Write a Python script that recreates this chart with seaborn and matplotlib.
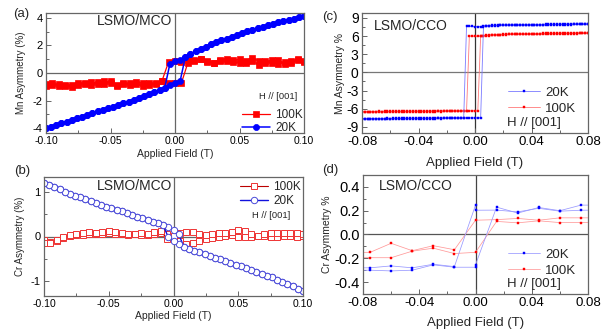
import numpy as np
import pandas as pd
import matplotlib
matplotlib.use("Agg")
import matplotlib.pyplot as plt
from matplotlib.lines import Line2D
from matplotlib.ticker import MultipleLocator, FixedLocator
import seaborn as sns

sns.set_style("white")
plt.rcParams["font.family"] = ["Liberation Sans", "DejaVu Sans"]

# ---------------- Panel (a): Mn asymmetry, LSMO/MCO ----------------
a_x20 = np.round(np.arange(-0.100, 0.1001, 0.004), 3)
# 20K lower branch, x = -0.100 ... 0.004
a20_lower = [-4.02, -3.90, -3.78, -3.66, -3.53, -3.41, -3.28, -3.16, -3.04, -2.91,
             -2.79, -2.67, -2.55, -2.43, -2.31, -2.19, -2.07, -1.95, -1.82, -1.68,
             -1.53, -1.40, -1.26, -1.10, -0.85, -0.70, -0.57]
# 20K upper branch, x = -0.004 ... 0.100
a20_upper = [0.65, 0.86, 0.97, 1.15, 1.40, 1.58, 1.75, 1.92, 2.07, 2.22,
             2.36, 2.50, 2.64, 2.77, 2.90, 3.02, 3.14, 3.25, 3.36, 3.47,
             3.58, 3.68, 3.77, 3.86, 3.95, 4.03, 4.12]
a_x100 = np.round(np.arange(-0.100, 0.1001, 0.005), 3)
a100_asc = [-0.80, -0.75, -0.92, -0.95, -0.85, -0.70, -0.78, -0.62, -0.80, -0.55,
            -0.72, -0.85, -0.80, -0.75, -0.68, -0.72, -0.85, -0.75, -0.60, -0.70,
            -0.75, -0.72,
            0.75, 0.95, 1.05, 0.80, 0.70, 0.90, 0.85, 0.95, 1.00, 0.75,
            0.85, 0.60, 0.90, 0.70, 0.95, 0.65, 0.75, 0.95, 0.80]
a100_desc = [-0.95, -0.88, -0.78, -0.90, -0.98, -0.85, -0.75, -0.90, -0.68, -0.82,
             -0.60, -0.95, -0.70, -0.88, -0.80, -0.92, -0.70, -0.82, -0.55,
             0.80, 0.85, 0.82, 0.95, 0.90, 1.00, 0.85, 0.75, 0.95, 1.05,
             0.80, 0.70, 0.90, 1.10, 0.85, 0.75, 0.95, 0.65, 0.80, 0.90,
             1.00, 0.85]

# ---------------- Panel (b): Cr asymmetry, LSMO/MCO ----------------
b_x20 = a_x20
b20_upper = [1.22, 1.17, 1.12, 1.07, 1.02, 0.97, 0.93, 0.89, 0.84, 0.80,
             0.76, 0.72, 0.68, 0.64, 0.60, 0.57, 0.53, 0.49, 0.45, 0.41,
             0.38, 0.34, 0.30, 0.26, 0.22, 0.14, 0.05]
b20_lower = [-0.02, -0.10, -0.17, -0.23, -0.28, -0.32, -0.36, -0.40, -0.44, -0.48,
             -0.52, -0.56, -0.60, -0.64, -0.68, -0.72, -0.76, -0.80, -0.84, -0.89,
             -0.93, -0.98, -1.03, -1.08, -1.13, -1.18, -1.23]
b_x100 = a_x100
b100_asc = [-0.08, -0.12, -0.10, -0.04, 0.02, 0.03, 0.04, 0.05, 0.05, 0.06,
            0.08, 0.06, 0.05, 0.04, 0.05, 0.04, 0.03, 0.06, 0.08, 0.05,
            0.00, -0.10, -0.16, -0.14, -0.10, -0.06, -0.03, 0.00, 0.02, 0.03,
            0.00, -0.02, 0.00, 0.02, 0.01, -0.01, 0.00, 0.02, 0.01, 0.00, 0.01]
b100_desc = [-0.15, -0.14, -0.08, -0.02, 0.03, 0.06, 0.08, 0.10, 0.09, 0.10,
             0.12, 0.10, 0.08, 0.06, 0.05, 0.07, 0.06, 0.11, 0.13, -0.05,
             0.02, 0.08, 0.11, 0.10, 0.06, 0.03, 0.05, 0.08, 0.07, 0.10,
             0.14, 0.12, 0.06, 0.02, 0.05, 0.07, 0.08, 0.08, 0.07, 0.08, 0.06]

# ---------------- Panel (c): Mn asymmetry, LSMO/CCO ----------------
c_x = np.round(np.arange(-0.080, 0.0801, 0.002), 3)
c20_asc = [-7.64, -7.63, -7.64, -7.62, -7.63, -7.62, -7.61, -7.62, -7.61, -7.60,
           -7.61, -7.60, -7.59, -7.60, -7.59, -7.58, -7.59, -7.58, -7.57, -7.58,
           -7.57, -7.56, -7.57, -7.56, -7.55, -7.56, -7.55, -7.54, -7.55, -7.54,
           -7.53, -7.54, -7.53, -7.52, -7.53, -7.52, -7.51, -7.52, -7.51, -7.50,
           -7.51, -7.50, -7.50,
           7.66, 7.70, 7.72, 7.74, 7.75, 7.76, 7.77, 7.78, 7.78, 7.79,
           7.80, 7.80, 7.81, 7.81, 7.82, 7.82, 7.83, 7.83, 7.84, 7.84,
           7.85, 7.85, 7.86, 7.86, 7.87, 7.87, 7.88, 7.88, 7.89, 7.89,
           7.90, 7.90, 7.91, 7.91, 7.92, 7.92, 7.93, 7.93]
c20_desc = [-7.70, -7.69, -7.70, -7.68, -7.69, -7.68, -7.67, -7.68, -7.67, -7.66,
            -7.67, -7.66, -7.65, -7.66, -7.65, -7.64, -7.65, -7.64, -7.63, -7.64,
            -7.63, -7.62, -7.63, -7.62, -7.61, -7.62, -7.61, -7.60, -7.61, -7.60,
            -7.59, -7.60, -7.59, -7.58, -7.59, -7.58, -7.57,
            7.62, 7.60, 7.58, 7.56, 7.55, 7.55, 7.56, 7.58, 7.62, 7.66,
            7.70, 7.73, 7.75, 7.77, 7.78, 7.80, 7.81, 7.82, 7.83, 7.84,
            7.85, 7.86, 7.87, 7.88, 7.88, 7.89, 7.90, 7.90, 7.91, 7.92,
            7.92, 7.93, 7.94, 7.94, 7.95, 7.95, 7.96, 7.96, 7.97, 7.97,
            7.98, 7.98, 7.99, 7.99]
c100_asc = [-6.48, -6.47, -6.48, -6.46, -6.47, -6.46, -6.45, -6.46, -6.45, -6.44,
            -6.45, -6.44, -6.43, -6.44, -6.43, -6.42, -6.43, -6.42, -6.41, -6.42,
            -6.41, -6.40, -6.41, -6.40, -6.39, -6.40, -6.39, -6.38, -6.39, -6.38,
            -6.37, -6.38, -6.37, -6.36, -6.37, -6.36, -6.35, -6.36, -6.35, -6.34,
            -6.35, -6.34,
            6.02, 6.08, 6.12, 6.15, 6.18, 6.20, 6.22, 6.23, 6.24, 6.25,
            6.26, 6.27, 6.28, 6.28, 6.29, 6.30, 6.30, 6.31, 6.32, 6.32,
            6.33, 6.33, 6.34, 6.35, 6.35, 6.36, 6.36, 6.37, 6.38, 6.38,
            6.39, 6.39, 6.40, 6.41, 6.41, 6.42, 6.42, 6.43, 6.44]
c100_desc = [-6.55, -6.54, -6.55, -6.53, -6.54, -6.53, -6.52, -6.53, -6.52, -6.51,
             -6.52, -6.51, -6.50, -6.51, -6.50, -6.49, -6.50, -6.49, -6.48, -6.49,
             -6.48, -6.47, -6.48, -6.47, -6.46, -6.47, -6.46, -6.45, -6.46, -6.45,
             -6.44, -6.45, -6.44, -6.43, -6.44, -6.43, -6.42, -6.43,
             6.00, 5.98, 5.97, 5.96, 5.97, 5.98, 6.02, 6.08, 6.14, 6.18,
             6.22, 6.25, 6.27, 6.29, 6.30, 6.32, 6.33, 6.34, 6.35, 6.36,
             6.37, 6.38, 6.39, 6.40, 6.40, 6.41, 6.42, 6.43, 6.43, 6.44,
             6.45, 6.45, 6.46, 6.47, 6.47, 6.48, 6.48, 6.49, 6.50, 6.50,
             6.51, 6.51, 6.52]

# ---------------- Panel (d): Cr asymmetry, LSMO/CCO ----------------
d20_asc_x = [-0.09, -0.075, -0.06, -0.045, -0.03, -0.015, 0.0, 0.0, 0.015, 0.03, 0.045, 0.06, 0.075, 0.09]
d20_asc_y = [-0.30, -0.30, -0.306, -0.30, -0.255, -0.275, -0.275, -0.255, 0.23, 0.18, 0.227, 0.20, 0.247, 0.247]
d20_desc_x = [0.09, 0.075, 0.06, 0.045, 0.03, 0.015, 0.0, 0.0, -0.015, -0.03, -0.045, -0.06, -0.075, -0.09]
d20_desc_y = [0.205, 0.204, 0.196, 0.22, 0.19, 0.205, 0.204, 0.247, -0.27, -0.25, -0.28, -0.264, -0.28, -0.28]
d100_asc_x = [-0.09, -0.075, -0.06, -0.045, -0.03, -0.015, 0.0, 0.015, 0.03, 0.045, 0.06, 0.075, 0.09]
d100_asc_y = [-0.19, -0.195, -0.195, -0.14, -0.115, -0.16, -0.15, 0.11, 0.098, 0.115, 0.10, 0.10, 0.10]
d100_desc_x = [0.09, 0.075, 0.06, 0.045, 0.03, 0.015, 0.0, -0.015, -0.03, -0.045, -0.06, -0.075, -0.09]
d100_desc_y = [0.14, 0.14, 0.14, 0.12, 0.135, 0.125, 0.12, -0.128, -0.094, -0.136, -0.074, -0.15, -0.15]

# tick values
ab_xticks = [-0.10, -0.05, 0.00, 0.05, 0.10]
a_yticks = [-4, -2, 0, 2, 4]
b_yticks = [-1, 0, 1]
cd_xticks = [-0.08, -0.04, 0.00, 0.04, 0.08]
c_yticks = [-9, -6, -3, 0, 3, 6, 9]
d_yticks = [-0.4, -0.2, 0.0, 0.2, 0.4]

RED = "#ff0000"
BLUE = "#0000ff"

W, H = 616, 335
fig = plt.figure(figsize=(W / 100, H / 100), dpi=100)


def axes_px(l, t, r, b):
    return fig.add_axes([l / W, 1 - b / H, (r - l) / W, (b - t) / H])


ax_a = axes_px(46, 13, 304, 133)
ax_b = axes_px(44, 177, 303, 296)
ax_c = axes_px(362, 13, 588, 133)
ax_d = axes_px(363, 175, 588, 294)


def sweep(ax, x, y, **kw):
    df = pd.DataFrame({"x": np.asarray(x, float), "y": np.asarray(y, float)})
    sns.lineplot(data=df, x="x", y="y", ax=ax, sort=False, estimator=None,
                 legend=False, **kw)


# --- (a) ---
n_low = len(a20_lower)
up_start = len(a_x20) - len(a20_upper)
a20_asc = list(a20_lower) + list(a20_upper[n_low - up_start:])
a20_desc_incr = list(a20_lower[:up_start]) + list(a20_upper)
kw_sq = dict(color=RED, marker="s", markersize=4.2, markeredgecolor=RED,
             markerfacecolor=RED, markeredgewidth=0.5, linewidth=0.9)
kw_ci = dict(color=BLUE, marker="o", markersize=4.4, markeredgecolor=BLUE,
             markerfacecolor=BLUE, markeredgewidth=0.5, linewidth=1.1)
sweep(ax_a, a_x100, a100_asc, **kw_sq)
sweep(ax_a, a_x100[::-1], a100_desc[::-1], **kw_sq)
sweep(ax_a, a_x20, a20_asc, **kw_ci)
sweep(ax_a, a_x20[::-1], a20_desc_incr[::-1], **kw_ci)

# --- (b) ---
n_up = len(b20_upper)
lo_start = len(b_x20) - len(b20_lower)
b20_asc = list(b20_upper) + list(b20_lower[n_up - lo_start:])
b20_desc_incr = list(b20_upper[:lo_start]) + list(b20_lower)
kw_osq = dict(color="#bb0000", marker="s", markersize=3.9, markeredgecolor="#ee3333",
              markerfacecolor="white", markeredgewidth=0.7, linewidth=0.8)
kw_oci = dict(color="#1111dd", marker="o", markersize=4.6, markeredgecolor="#4a4ad8",
              markerfacecolor="white", markeredgewidth=0.7, linewidth=1.0)
sweep(ax_b, b_x100, b100_asc, **kw_osq)
sweep(ax_b, b_x100[::-1], b100_desc[::-1], **kw_osq)
sweep(ax_b, b_x20, b20_asc, **kw_oci)
sweep(ax_b, b_x20[::-1], b20_desc_incr[::-1], **kw_oci)

# --- (c) ---
kw_cb = dict(color="#7a7aff", marker="s", markersize=1.9, markeredgecolor=BLUE,
             markerfacecolor=BLUE, markeredgewidth=0.3, linewidth=0.6)
kw_cr = dict(color="#ff7a7a", marker="s", markersize=1.9, markeredgecolor=RED,
             markerfacecolor=RED, markeredgewidth=0.3, linewidth=0.6)
sweep(ax_c, c_x, c100_asc, **kw_cr)
sweep(ax_c, c_x[::-1], c100_desc[::-1], **kw_cr)
sweep(ax_c, c_x, c20_asc, **kw_cb)
sweep(ax_c, c_x[::-1], c20_desc[::-1], **kw_cb)

# --- (d) ---
kw_db = dict(color="#9999ff", marker="s", markersize=2.0, markeredgecolor=BLUE,
             markerfacecolor=BLUE, markeredgewidth=0.3, linewidth=0.55)
kw_dr = dict(color="#ff9999", marker="s", markersize=2.0, markeredgecolor=RED,
             markerfacecolor=RED, markeredgewidth=0.3, linewidth=0.55)
sweep(ax_d, d100_asc_x, d100_asc_y, **kw_dr)
sweep(ax_d, d100_desc_x, d100_desc_y, **kw_dr)
sweep(ax_d, d20_asc_x, d20_asc_y, **kw_db)
sweep(ax_d, d20_desc_x, d20_desc_y, **kw_db)


# ---------------- axes styling ----------------
def style(ax, xlim, ylim, xticks, xmin, yticks, ymin, xfs, yfs, xfmt, yfmt,
          spine="#666666", zc="#666666", vc="#666666"):
    ax.set_xlim(*xlim)
    ax.set_ylim(*ylim)
    ax.axhline(0, color=zc, lw=0.9, zorder=0)
    ax.axvline(0, color=vc, lw=0.9, zorder=0)
    ax.xaxis.set_major_locator(FixedLocator(xticks))
    ax.xaxis.set_minor_locator(MultipleLocator(xmin))
    ax.yaxis.set_major_locator(FixedLocator(yticks))
    ax.yaxis.set_minor_locator(MultipleLocator(ymin))
    ax.set_xticklabels([xfmt.format(v + 0.0) for v in xticks])
    ax.set_yticklabels([yfmt.format(v + 0.0) for v in yticks])
    ax.tick_params(which="both", direction="in", color=spine, width=0.7,
                   bottom=True, left=True, top=False, right=False,
                   labelbottom=True, labelleft=True)
    ax.tick_params(which="major", length=3.5, pad=2.5)
    ax.tick_params(which="minor", length=2)
    ax.tick_params(axis="x", labelsize=xfs, labelcolor="black")
    ax.tick_params(axis="y", labelsize=yfs, labelcolor="black")
    for s in ax.spines.values():
        s.set_color(spine)
        s.set_linewidth(0.9)


style(ax_a, (-0.1, 0.1), (-4.35, 4.35), ab_xticks, 0.025, a_yticks, 1, 7.5, 8, "{:.2f}", "{:.0f}")
style(ax_b, (-0.1, 0.1), (-1.35, 1.35), ab_xticks, 0.025, b_yticks, 0.5, 7.5, 8, "{:.2f}", "{:.0f}")
style(ax_c, (-0.08, 0.08), (-10.0, 9.8), cd_xticks, 0.02, c_yticks, 1.5, 9.5, 10, "{:.2f}", "{:.0f}",
      zc="#777777", vc="#333333")
style(ax_d, (-0.08, 0.08), (-0.5, 0.5), cd_xticks, 0.02, d_yticks, 0.1, 9.5, 10.5, "{:.2f}", "{:.1f}",
      zc="#555555", vc="#444444")

ax_a.set_xlabel("Applied Field (T)", fontsize=7.5)
ax_a.set_ylabel("Mn Asymmetry (%)", fontsize=7)
ax_b.set_xlabel("Applied Field (T)", fontsize=7.5)
ax_b.set_ylabel("Cr Asymmetry (%)", fontsize=7)
ax_c.set_xlabel("Applied Field (T)", fontsize=9.5)
ax_c.set_ylabel("Mn Asymmetry %", fontsize=7.5)
ax_d.set_xlabel("Applied Field (T)", fontsize=9.5)
ax_d.set_ylabel("Cr Asymmetry %", fontsize=7.5)
ax_a.xaxis.set_label_coords(0.5, -0.13)
ax_b.xaxis.set_label_coords(0.5, -0.122)
ax_c.xaxis.set_label_coords(0.5, -0.20)
ax_d.xaxis.set_label_coords(0.5, -0.19)
ax_a.yaxis.set_label_coords(-0.078, 0.5)
ax_b.yaxis.set_label_coords(-0.073, 0.5)
ax_c.yaxis.set_label_coords(-0.075, 0.5)
ax_d.yaxis.set_label_coords(-0.14, 0.5)

# sample labels
ax_a.text(0.345, 0.933, "LSMO/MCO", transform=ax_a.transAxes, ha="center", va="center", fontsize=10)
ax_b.text(0.351, 0.924, "LSMO/MCO", transform=ax_b.transAxes, ha="center", va="center", fontsize=10)
ax_c.text(0.217, 0.89, "LSMO/CCO", transform=ax_c.transAxes, ha="center", va="center", fontsize=10)
ax_d.text(0.236, 0.908, "LSMO/CCO", transform=ax_d.transAxes, ha="center", va="center", fontsize=10)

# panel letters
for lab, px, py in [("(a)", 21, 14), ("(b)", 22, 171), ("(c)", 330, 17), ("(d)", 330, 170)]:
    fig.text(px / W, 1 - py / H, lab, ha="center", va="center", fontsize=9.5)


def legend(ax, handles, labels, x, y, fs, hl, ls=0.2):
    ax.legend(handles, labels, loc="upper left", bbox_to_anchor=(x, y), frameon=False,
              fontsize=fs, handlelength=hl, handletextpad=0.4, labelspacing=ls,
              borderpad=0, borderaxespad=0)


legend(ax_a, [Line2D([], [], **kw_sq), Line2D([], [], **kw_ci)],
       ["100K", "20K"], 0.76, 0.20, 8.5, 2.4, ls=0.1)
ax_a.text(0.899, 0.304, "H // [001]", transform=ax_a.transAxes, ha="center", va="center", fontsize=6.8)
legend(ax_b, [Line2D([], [], **kw_osq), Line2D([], [], **kw_oci)],
       ["100K", "20K"], 0.757, 0.965, 8.5, 2.4, ls=0.15)
ax_b.text(0.877, 0.68, "H // [001]", transform=ax_b.transAxes, ha="center", va="center", fontsize=6.8)
legend(ax_c, [Line2D([], [], **kw_cb), Line2D([], [], **kw_cr)],
       ["20K", "100K"], 0.646, 0.385, 9.5, 2.4, ls=0.25)
ax_c.text(0.64, 0.083, "H // [001]", transform=ax_c.transAxes, ha="left", va="center", fontsize=9.5)
legend(ax_d, [Line2D([], [], **kw_db), Line2D([], [], **kw_dr)],
       ["20K", "100K"], 0.644, 0.38, 9.5, 2.4, ls=0.25)
ax_d.text(0.64, 0.084, "H // [001]", transform=ax_d.transAxes, ha="left", va="center", fontsize=9.5)

fig.savefig("out.png", dpi=100, facecolor="white")
